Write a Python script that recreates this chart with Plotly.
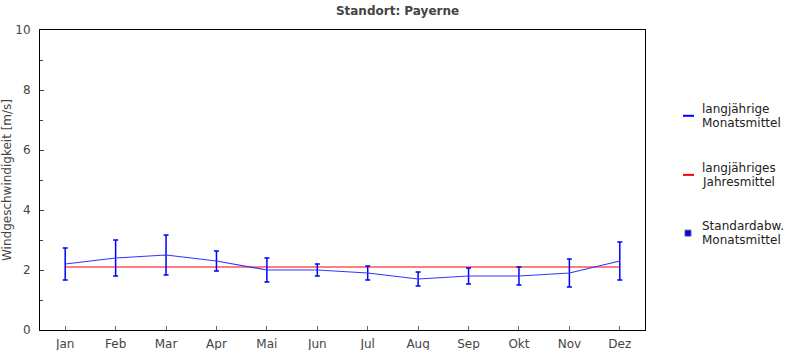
import plotly.graph_objects as go

months = ["Jan", "Feb", "Mar", "Apr", "Mai", "Jun", "Jul", "Aug", "Sep", "Okt", "Nov", "Dez"]
monthly_mean = [2.2, 2.4, 2.5, 2.3, 2.0, 2.0, 1.9, 1.7, 1.8, 1.8, 1.9, 2.3]
monthly_std = [0.53, 0.6, 0.67, 0.33, 0.4, 0.2, 0.23, 0.23, 0.27, 0.3, 0.47, 0.63]
annual_mean = 2.1

FONT = "DejaVu Sans"
fig = go.Figure()

fig.add_trace(go.Scatter(
    x=months, y=[annual_mean] * len(months), mode="lines",
    line=dict(color="red", width=1.2), showlegend=False, hoverinfo="skip"))

fig.add_trace(go.Scatter(
    x=months, y=monthly_mean, mode="lines",
    line=dict(color="#3333ff", width=1.2),
    error_y=dict(type="data", array=monthly_std, visible=True,
                 color="blue", thickness=1.5, width=2.5),
    showlegend=False))

# legend drawn manually
legend_items = [
    ("line", "blue", ["langjährige", "Monatsmittel"], 0.714),
    ("line", "red", ["langjähriges", "Jahresmittel"], 0.517),
    ("square", "blue", ["Standardabw.", "Monatsmittel"], 0.323),
]
shapes = []
annotations = []
half = 7.2 / 300
for kind, col, lines, yy in legend_items:
    if kind == "line":
        shapes.append(dict(type="line", xref="paper", yref="paper",
                           x0=1.0628, x1=1.0810, y0=yy, y1=yy,
                           line=dict(color=col, width=2)))
    else:
        dy = 3.0 / 300
        shapes.append(dict(type="rect", xref="paper", yref="paper",
                           x0=1.0661, x1=1.0760, y0=yy - dy, y1=yy + dy,
                           fillcolor=col, line=dict(color="#666", width=1)))
    for k, t in enumerate(lines):
        annotations.append(dict(xref="paper", yref="paper", x=1.0922,
                                y=yy + half * (1 if k == 0 else -1),
                                xanchor="left", yanchor="middle", showarrow=False,
                                align="left", text=t, borderpad=0,
                                font=dict(family=FONT, size=12, color="#222")))

fig.update_layout(
    width=795, height=350,
    margin=dict(l=40, r=150, t=30, b=20),
    paper_bgcolor="white", plot_bgcolor="white",
    font=dict(family=FONT, size=12, color="#444"),
    title=dict(text="<b>Standort: Payerne</b>", x=0.5, xanchor="center",
               y=1 - 11 / 350, yanchor="middle",
               font=dict(family=FONT, size=12, color="#444")),
    shapes=shapes, annotations=annotations,
    showlegend=False,
)
fig.update_xaxes(
    type="category", range=[-0.5, 11.5], showgrid=False, zeroline=False,
    showline=True, linecolor="black", linewidth=1, mirror=True,
    ticks="inside", ticklen=4, tickcolor="#666", automargin=False,
    tickfont=dict(family=FONT, size=12, color="#444"), ticklabelstandoff=3)
fig.update_yaxes(
    range=[0, 10], dtick=2, showgrid=False, zeroline=False,
    showline=True, linecolor="black", linewidth=1, mirror=True,
    ticks="inside", ticklen=4, tickcolor="#444", automargin=False,
    minor=dict(dtick=1, ticks="inside", ticklen=3, tickcolor="#444", showgrid=False),
    tickfont=dict(family=FONT, size=12, color="#444"), ticklabelstandoff=6,
    title=dict(text="Windgeschwindigkeit [m/s]", standoff=10,
               font=dict(family=FONT, size=12, color="#444")))

fig.write_html("out.html")
